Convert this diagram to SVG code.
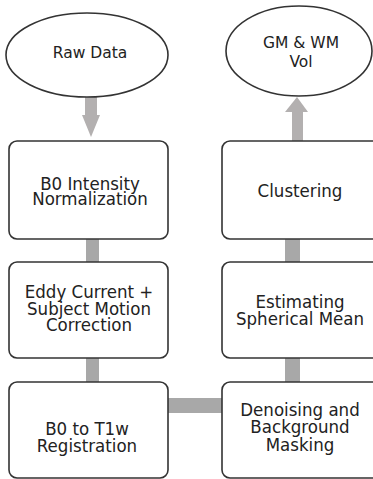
<svg xmlns="http://www.w3.org/2000/svg" width="373" height="479" viewBox="0 0 373 479">
<style>
.box{fill:#fff;stroke:#333;stroke-width:1.6}
.ell{fill:#fff;stroke:#333;stroke-width:1.6}
.t{font-family:"DejaVu Sans Condensed","DejaVu Sans",sans-serif;font-stretch:condensed;font-size:18.5px;fill:#222;text-anchor:middle}
.te{font-family:"DejaVu Sans",sans-serif;font-size:15.5px;fill:#222;text-anchor:middle}
.c{fill:#a8a8a8}
.a{fill:#b3b0b0}
</style>
<rect width="373" height="479" fill="#fff"/>
<g id="connectors">
<rect class="a" x="85" y="96" width="12" height="21"/>
<polygon class="a" points="82,115 100,115 91,137"/>
<rect class="c" x="86" y="238" width="13" height="25"/>
<rect class="c" x="86" y="357" width="13" height="26"/>
<rect class="c" x="167" y="398" width="56" height="15"/>
<rect class="c" x="285" y="357" width="15" height="26"/>
<rect class="c" x="285" y="238" width="15" height="25"/>
<rect class="a" x="292" y="111" width="11" height="30"/>
<polygon class="a" points="285,112 308,112 297,97"/>
</g>
<g id="raw-data">
<ellipse class="ell" cx="87" cy="55" rx="81" ry="42"/>
<text class="te" x="90" y="58">Raw Data</text>
</g>
<g id="b0-intensity">
<rect class="box" x="9" y="141" width="159" height="98" rx="8"/>
<text class="t" x="90" y="190">B0 Intensity</text>
<text class="t" x="90" y="205">Normalization</text>
</g>
<g id="eddy">
<rect class="box" x="9" y="262" width="159" height="96" rx="8"/>
<text class="t" x="89" y="298">Eddy Current +</text>
<text class="t" x="89" y="315">Subject Motion</text>
<text class="t" x="89" y="331">Correction</text>
</g>
<g id="b0-t1w">
<rect class="box" x="9" y="382" width="159" height="96" rx="8"/>
<text class="t" x="87" y="435">B0 to T1w</text>
<text class="t" x="87" y="452">Registration</text>
</g>
<g id="denoising">
<rect class="box" x="222" y="382" width="160" height="96" rx="8"/>
<text class="t" x="300" y="416">Denoising and</text>
<text class="t" x="300" y="433">Background</text>
<text class="t" x="300" y="451">Masking</text>
</g>
<g id="spherical-mean">
<rect class="box" x="222" y="262" width="160" height="96" rx="8"/>
<text class="t" x="300" y="308">Estimating</text>
<text class="t" x="300" y="325">Spherical Mean</text>
</g>
<g id="clustering">
<rect class="box" x="222" y="141" width="160" height="98" rx="8"/>
<text class="t" x="300" y="197">Clustering</text>
</g>
<g id="gm-wm-vol">
<ellipse class="ell" cx="299" cy="51" rx="73" ry="45"/>
<text class="te" x="301" y="48">GM &amp; WM</text>
<text class="te" x="301" y="67">Vol</text>
</g>
</svg>
